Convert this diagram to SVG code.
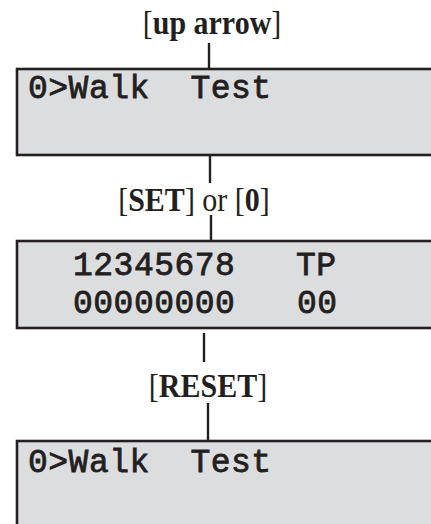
<svg xmlns="http://www.w3.org/2000/svg" width="431" height="524" viewBox="0 0 431 524">
  <style>
    .box { fill: #dcdddf; stroke: #231f20; stroke-width: 2.6; }
    .conn { stroke: #231f20; stroke-width: 2.4; fill: none; }
    .lcd { font-family: "Liberation Mono", "Courier New", monospace; font-size: 33px; fill: #231f20; stroke: #231f20; stroke-width: 0.8; letter-spacing: 0.5px; }
    .lbl { font-family: "Liberation Serif", "Times New Roman", serif; font-size: 30px; fill: #231f20; text-anchor: middle; }
    .b { font-weight: bold; }
  </style>
  <rect width="431" height="524" fill="#ffffff"/>
  <g id="connectors">
    <line class="conn" x1="209" y1="43" x2="209" y2="68"/>
    <line class="conn" x1="210" y1="155" x2="210" y2="183"/>
    <line class="conn" x1="211" y1="215" x2="211" y2="240"/>
    <line class="conn" x1="204" y1="333" x2="204" y2="362"/>
    <line class="conn" x1="208" y1="403" x2="208" y2="440"/>
  </g>
  <g id="label-up-arrow">
    <text class="lbl" transform="translate(212,34) scale(1,1.12)" x="0" y="0">[<tspan class="b">up arrow</tspan>]</text>
  </g>
  <g id="screen-walk-test-1">
    <rect class="box" x="17" y="69" width="430" height="86"/>
    <text class="lcd" x="28" y="98" xml:space="preserve">0&gt;Walk  Test</text>
  </g>
  <g id="label-set-or-0">
    <text class="lbl" transform="translate(194,211) scale(1,1.12)" x="0" y="0">[<tspan class="b">SET</tspan>] or [<tspan class="b">0</tspan>]</text>
  </g>
  <g id="screen-zones">
    <rect class="box" x="17" y="241" width="430" height="87"/>
    <text class="lcd" x="73" y="275">12345678</text>
    <text class="lcd" x="296" y="275">TP</text>
    <text class="lcd" x="73" y="313">00000000</text>
    <text class="lcd" x="297" y="313">00</text>
  </g>
  <g id="label-reset">
    <text class="lbl" transform="translate(208,397) scale(1,1.15)" x="0" y="0">[<tspan class="b">RESET</tspan>]</text>
  </g>
  <g id="screen-walk-test-2">
    <rect class="box" x="17" y="441" width="430" height="100"/>
    <text class="lcd" x="28" y="472" xml:space="preserve">0&gt;Walk  Test</text>
  </g>
</svg>
